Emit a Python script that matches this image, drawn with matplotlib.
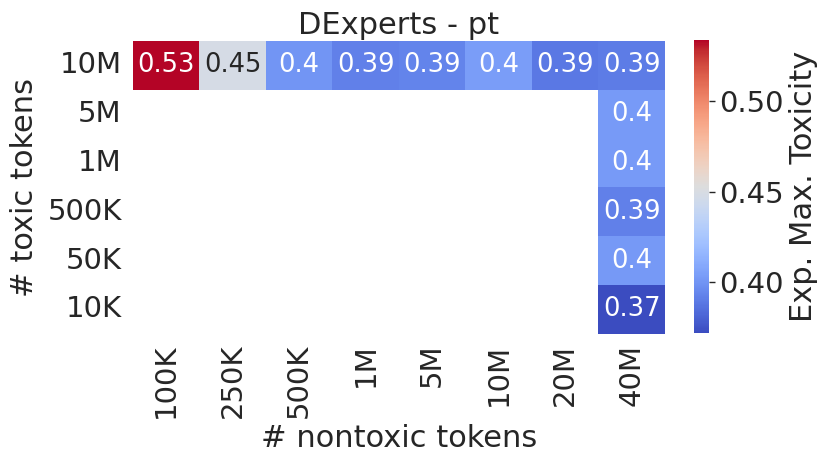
import numpy as np
import pandas as pd
import matplotlib
matplotlib.use("Agg")
import matplotlib.pyplot as plt
import seaborn as sns

toxic_labels = ["10M", "5M", "1M", "500K", "50K", "10K"]
nontoxic_labels = ["100K", "250K", "500K", "1M", "5M", "10M", "20M", "40M"]

# first row: 10M toxic tokens, across all nontoxic sizes
row_10M = [0.534, 0.448, 0.400, 0.392, 0.393, 0.404, 0.389, 0.390]
# last column: 40M nontoxic tokens, for the remaining toxic sizes
col_40M = [0.403, 0.403, 0.392, 0.402, 0.372]

data = np.full((len(toxic_labels), len(nontoxic_labels)), np.nan)
data[0, :] = row_10M
data[1:, -1] = col_40M
df = pd.DataFrame(data, index=toxic_labels, columns=nontoxic_labels)

plt.rcParams['font.family'] = ['DejaVu Sans']
fig = plt.figure(figsize=(8.3, 4.65), dpi=100)
ax = fig.add_axes([0.160, 0.282, 0.641, 0.630])
cax = fig.add_axes([0.836, 0.284, 0.018, 0.630])

sns.heatmap(df, ax=ax, cbar_ax=cax, cmap="coolwarm", annot=True,
            annot_kws={"fontsize": 18.5}, fmt=".2g",
            cbar_kws={"label": "Exp. Max. Toxicity"})

ax.set_title("DExperts - pt", fontsize=22, color="#262626", pad=5)
ax.set_xlabel("# nontoxic tokens", fontsize=22, color="#262626", labelpad=4)
ax.set_ylabel("# toxic tokens", fontsize=22, color="#262626", labelpad=6)
ax.tick_params(axis="x", labelsize=21, rotation=90, length=0, pad=7, colors="#262626")
ax.tick_params(axis="y", labelsize=21, rotation=0, length=0, pad=8, colors="#262626")

cax.tick_params(labelsize=21, length=4, width=1, colors="#262626")
cax.set_yticks([0.40, 0.45, 0.50])
cax.set_yticklabels(["0.40", "0.45", "0.50"])
cax.yaxis.label.set_size(22)
cax.yaxis.label.set_color("#262626")
for s in cax.spines.values():
    s.set_visible(False)

fig.savefig("out.png", dpi=100)
